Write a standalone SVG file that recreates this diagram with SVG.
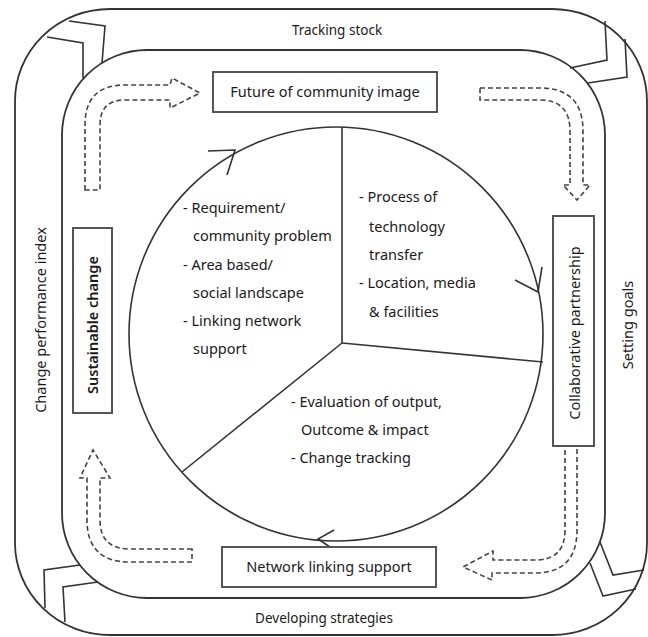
<svg xmlns="http://www.w3.org/2000/svg" width="648" height="637" viewBox="0 0 648 637">
<style>
.frame{fill:none;stroke:#333;stroke-width:1.8}
.chev{fill:none;stroke:#333;stroke-width:1.6;stroke-linejoin:miter}
.box{fill:#fff;stroke:#555;stroke-width:2}
.dash{fill:none;stroke:#444;stroke-width:1.6;stroke-dasharray:5 3}
.circ{fill:none;stroke:#333;stroke-width:1.6}
.txt{font-family:"Noto Sans","Open Sans",sans-serif;font-size:14.5px;fill:#1a1a1a}
.lbl{font-family:"Noto Sans","Open Sans",sans-serif;font-size:13.5px;fill:#1a1a1a}
</style>
<rect width="648" height="637" fill="#fff"/>
<g id="frame">
<rect class="frame" x="15" y="9" width="632" height="626" rx="95" ry="92"/>
<rect class="frame" x="62" y="50" width="543" height="548" rx="85" ry="85"/>
<polyline class="chev" points="47,37 83,43 83,78"/>
<polyline class="chev" points="69,21 105,26 102,63"/>
<polyline class="chev" points="605,21 607,60 570,68"/>
<polyline class="chev" points="625,39 627,77 588,83"/>
<polyline class="chev" points="600,542 613,575 644,570"/>
<polyline class="chev" points="590,563 603,596 636,589"/>
<polyline class="chev" points="80,565 44,570 45,608"/>
<polyline class="chev" points="98,582 63,587 65,622"/>
</g>
<g id="outer-labels">
<text class="lbl" x="337" y="35" text-anchor="middle">Tracking stock</text>
<text class="lbl" x="324" y="623" text-anchor="middle" font-size="13">Developing strategies</text>
<text class="txt" transform="translate(40,320) rotate(-90)" text-anchor="middle" dominant-baseline="central">Change performance index</text>
<text class="txt" transform="translate(627,325) rotate(-90)" text-anchor="middle" dominant-baseline="central">Setting goals</text>
</g>
<g id="connectors">
<path class="dash" d="M85,190 L85,125 Q85,85 125,85 L170,85 L172,78 L200,93 L170,108 L170,100 L125,100 Q100,100 100,125 L100,190 Z"/>
<path class="dash" d="M480,88 L540,88 Q583,88 583,131 L583,185 L590,185 L577,200 L563,185 L570,185 L570,131 Q570,100 540,100 L480,100 Z"/>
<path class="dash" d="M565,442 L565,530 Q565,560 535,560 L493,560 L493,551 L463,567 L492,580 L492,573 L535,573 Q577,573 577,530 L577,442 Z"/>
<path class="dash" d="M192,549 L130,549 Q100,549 100,520 L100,478 L110,478 L93,450 L80,478 L87,478 L87,520 Q87,562 130,562 L192,562 Z"/>
</g>
<g id="cycle">
<circle class="circ" cx="336" cy="334" r="207"/>
<line class="circ" x1="342" y1="127" x2="342" y2="343"/>
<line class="circ" x1="342" y1="343" x2="543" y2="362"/>
<line class="circ" x1="342" y1="343" x2="182" y2="472"/>
<polyline class="circ" points="208,151 235,150 227,175"/>
<polyline class="circ" points="515,280 538,292 542,267"/>
<polyline class="circ" points="334,530 318,539 333,549"/>
</g>
<g id="sector-needs">
<text class="txt"><tspan x="183" y="213">- Requirement/</tspan><tspan x="193" y="241">community problem</tspan><tspan x="183" y="270">- Area based/</tspan><tspan x="193" y="298">social landscape</tspan><tspan x="183" y="326">- Linking network</tspan><tspan x="193" y="354">support</tspan></text>
</g>
<g id="sector-transfer">
<text class="txt"><tspan x="359" y="202">- Process of</tspan><tspan x="369" y="232">technology</tspan><tspan x="369" y="260">transfer</tspan><tspan x="359" y="288">- Location, media</tspan><tspan x="369" y="317">&amp; facilities</tspan></text>
</g>
<g id="sector-evaluation">
<text class="txt"><tspan x="291" y="407">- Evaluation of output,</tspan><tspan x="301" y="435">Outcome &amp; impact</tspan><tspan x="291" y="463">- Change tracking</tspan></text>
</g>
<g id="node-future">
<rect class="box" x="213" y="72" width="224" height="40"/>
<text class="txt" x="325" y="97" text-anchor="middle">Future of community image</text>
</g>
<g id="node-collaborative">
<rect class="box" x="553" y="216" width="41" height="230"/>
<text class="txt" transform="translate(574,333) rotate(-90)" text-anchor="middle" dominant-baseline="central">Collaborative partnership</text>
</g>
<g id="node-network">
<rect class="box" x="222" y="547" width="214" height="40"/>
<text class="txt" x="329" y="572" text-anchor="middle">Network linking support</text>
</g>
<g id="node-sustainable">
<rect class="box" x="73" y="228" width="39" height="185"/>
<text class="txt" transform="translate(92,325) rotate(-90)" text-anchor="middle" dominant-baseline="central" font-size="13.5" font-weight="600">Sustainable change</text>
</g>
</svg>
